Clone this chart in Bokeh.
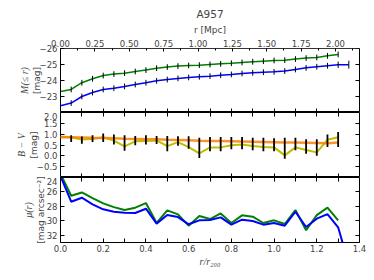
from bokeh.plotting import figure
from bokeh.models import Range1d, LinearAxis, FixedTicker
from bokeh.layouts import column
from bokeh.embed import file_html
from bokeh.resources import INLINE

# ---------------- data ----------------
r_r200 = [0.00, 0.05, 0.10, 0.15, 0.20, 0.25, 0.30, 0.35, 0.40, 0.45, 0.50, 0.55, 0.60, 0.65,
          0.70, 0.75, 0.80, 0.85, 0.90, 0.95, 1.00, 1.05, 1.10, 1.15, 1.20, 1.25, 1.30, 1.35]
r200_mpc = 1.553
x_max = 1.4

# cumulative magnitude M(<=r)
m_green = [-23.31, -23.44, -23.86, -24.11, -24.31, -24.40, -24.46, -24.56, -24.65, -24.77,
           -24.84, -24.90, -24.94, -24.96, -25.00, -25.04, -25.08, -25.13, -25.17, -25.21,
           -25.25, -25.27, -25.34, -25.40, -25.44, -25.54, -25.63]
m_green_err = [0.18, 0.18, 0.18, 0.18, 0.18, 0.18, 0.18, 0.18, 0.18, 0.18, 0.18, 0.18, 0.18, 0.18,
               0.18, 0.18, 0.18, 0.18, 0.18, 0.18, 0.18, 0.18, 0.18, 0.18, 0.18, 0.18, 0.18]
m_blue = [-22.42, -22.59, -23.00, -23.25, -23.44, -23.52, -23.63, -23.75, -23.86, -23.98,
          -24.06, -24.13, -24.19, -24.23, -24.27, -24.33, -24.38, -24.44, -24.48, -24.52,
          -24.54, -24.59, -24.69, -24.79, -24.86, -24.92, -24.98, -24.99]
m_blue_err = [0.18, 0.18, 0.18, 0.18, 0.18, 0.18, 0.18, 0.18, 0.18, 0.18, 0.18, 0.18, 0.18, 0.18,
              0.18, 0.18, 0.18, 0.18, 0.18, 0.18, 0.18, 0.18, 0.18, 0.18, 0.18, 0.18, 0.20, 0.25]

# colour B - V
bv_yellow = [0.86, 0.86, 0.75, 0.78, 0.86, 0.70, 0.44, 0.67, 0.69, 0.71, 0.45, 0.63, 0.40, 0.11,
             0.39, 0.39, 0.49, 0.52, 0.45, 0.41, 0.39, 0.02, 0.39, 0.27, 0.16, 0.74, 0.86]
bv_orange = [0.87, 0.86, 0.85, 0.83, 0.82, 0.81, 0.79, 0.78, 0.77, 0.76, 0.74, 0.73, 0.72, 0.70,
             0.69, 0.68, 0.67, 0.66, 0.65, 0.64, 0.63, 0.62, 0.61, 0.60, 0.59, 0.58, 0.62]
bv_hi = [0.95, 0.89, 0.95, 1.03, 0.98, 0.95, 0.92, 0.95, 0.92, 0.92, 0.90, 0.90, 0.83,
         0.87, 0.87, 0.87, 0.87, 0.84, 0.84, 0.81, 0.83, 0.83, 0.76, 0.76, 0.98, 1.10]
bv_lo = [0.64, 0.56, 0.64, 0.64, 0.52, 0.23, 0.49, 0.52, 0.55, 0.21, 0.46, 0.33, -0.10,
         0.21, 0.21, 0.30, 0.30, 0.26, 0.21, 0.21, -0.13, 0.26, 0.10, 0.00, 0.41, 0.41]

# surface brightness mu(r)
mu_green = [23.5, 26.53, 26.07, 26.85, 27.59, 28.10, 28.50, 28.18, 27.54, 30.30, 28.55, 29.10,
            30.67, 29.34, 29.75, 28.97, 30.30, 29.24, 29.42, 30.30, 29.93, 30.44, 28.51, 31.31,
            29.20, 28.18, 29.95]
mu_blue = [23.8, 27.35, 26.80, 27.72, 28.41, 28.74, 28.87, 28.92, 28.32, 30.39, 29.20, 29.48,
           30.48, 29.93, 29.89, 29.52, 30.53, 29.84, 30.02, 30.53, 30.30, 30.67, 28.74, 30.85,
           29.70, 29.06, 30.90, 36.0]

# ticks / labels
x_ticks = [0.0, 0.2, 0.4, 0.6, 0.8, 1.0, 1.2, 1.4]
x_minor = [0.1, 0.3, 0.5, 0.7, 0.9, 1.1, 1.3]
x_tick_labels = ["0.0", "0.2", "0.4", "0.6", "0.8", "1.0", "1.2", "1.4"]
mpc_ticks = [0.0, 0.25, 0.5, 0.75, 1.0, 1.25, 1.5, 1.75, 2.0]
mpc_minor = [0.125, 0.375, 0.625, 0.875, 1.125, 1.375, 1.625, 1.875, 2.125]
mpc_tick_labels = ["0.00", "0.25", "0.50", "0.75", "1.00", "1.25", "1.50", "1.75", "2.00"]
m_ticks = [-26, -25, -24, -23]
m_tick_labels = ["\u221226", "\u221225", "\u221224", "\u221223"]
bv_ticks = [2.0, 1.5, 1.0, 0.5, 0.0, -0.5]
bv_tick_labels = ["2.0", "1.5", "1.0", "0.5", "0.0", "\u22120.5"]
mu_ticks = [24, 26, 28, 30, 32]
mu_tick_labels = ["24", "26", "28", "30", "32"]

# ---------------- styling helpers ----------------
TICK_FONT = "DejaVu Sans"
TICK_SIZE = "8.5px"
LABEL_COLOR = "#444444"
xr = Range1d(0, x_max)


def make_fig(frame_h, yr, top, bottom):
    p = figure(frame_width=299, frame_height=frame_h, x_range=xr, y_range=yr,
               x_axis_location=None, y_axis_location=None, toolbar_location=None,
               output_backend="svg", min_border_left=60, min_border_right=14,
               min_border_top=top, min_border_bottom=bottom)
    p.grid.visible = False
    p.outline_line_color = "black"
    p.outline_line_width = 1
    p.outline_line_alpha = 1
    p.background_fill_color = "white"
    p.border_fill_color = "white"
    return p


def main_y_axis(p, ticks, labels, unit_label, name_label, unit_standoff=-5):
    ax = LinearAxis(ticker=FixedTicker(ticks=ticks),
                    major_label_overrides=dict(zip(ticks, labels)),
                    axis_label=unit_label, axis_line_color=None,
                    major_tick_in=4, major_tick_out=0, major_tick_line_color="black",
                    major_label_text_font=TICK_FONT, major_label_text_font_size=TICK_SIZE,
                    major_label_standoff=3,
                    axis_label_text_font=TICK_FONT, axis_label_text_font_size="9px",
                    axis_label_text_font_style="normal", axis_label_text_color=LABEL_COLOR,
                    axis_label_standoff=unit_standoff)
    p.add_layout(ax, "left")
    nm = LinearAxis(ticker=FixedTicker(ticks=[]), axis_line_color=None,
                    major_tick_in=0, major_tick_out=0, major_label_text_color=None,
                    major_label_standoff=0, axis_label=name_label,
                    axis_label_text_font="Liberation Serif", axis_label_text_font_size="10px",
                    axis_label_text_font_style="italic", axis_label_text_color=LABEL_COLOR,
                    axis_label_standoff=-1)
    p.add_layout(nm, "left")
    rt = LinearAxis(ticker=FixedTicker(ticks=ticks), fixed_location=x_max,
                    axis_line_color=None, major_tick_in=4, major_tick_out=0,
                    major_label_text_color=None)
    p.add_layout(rt, "right")


def inner_x_axis(p, side, loc):
    ax = LinearAxis(ticker=FixedTicker(ticks=x_ticks, minor_ticks=x_minor), fixed_location=loc,
                    axis_line_color=None, major_tick_in=4, major_tick_out=0,
                    minor_tick_in=4, minor_tick_out=0, major_label_text_color=None)
    p.add_layout(ax, side)


# ---------------- panel 1 ----------------
p1 = make_fig(64, Range1d(-22, -26), 48, 0)
p1.extra_x_ranges = {"mpc": Range1d(0, x_max * r200_mpc)}
p1.title.text = "A957"
p1.title.align = "center"
p1.title.text_font = TICK_FONT
p1.title.text_font_size = "10.5px"
p1.title.text_font_style = "normal"
p1.title.standoff = 3
spacer = LinearAxis(x_range_name="mpc", ticker=FixedTicker(ticks=[]), axis_line_color=None,
                    major_tick_in=0, major_tick_out=7, major_label_text_color=None,
                    major_label_standoff=0)
p1.add_layout(spacer, "above")
top = LinearAxis(x_range_name="mpc", ticker=FixedTicker(ticks=mpc_ticks, minor_ticks=mpc_minor),
                 major_label_overrides=dict(zip(mpc_ticks, mpc_tick_labels)),
                 axis_line_color="#333333", axis_line_width=1,
                 major_tick_in=3, major_tick_out=0, minor_tick_in=2, minor_tick_out=0,
                 major_label_text_font=TICK_FONT, major_label_text_font_size=TICK_SIZE,
                 major_label_standoff=2, axis_label="r [Mpc]",
                 axis_label_text_font=TICK_FONT, axis_label_text_font_size="9px",
                 axis_label_text_font_style="normal", axis_label_text_color=LABEL_COLOR,
                 axis_label_standoff=2)
p1.add_layout(top, "above")
main_y_axis(p1, m_ticks, m_tick_labels, "[mag]", "M(\u2264 r)")
inner_x_axis(p1, "below", -22)

xg = r_r200[:len(m_green)]
xb = r_r200[:len(m_blue)]
p1.line(xg, m_green, line_color="#008000", line_width=1.5)
p1.line(xb, m_blue, line_color="#0000ff", line_width=1.5)
p1.segment(x0=xg, y0=[v - e for v, e in zip(m_green, m_green_err)],
           x1=xg, y1=[v + e for v, e in zip(m_green, m_green_err)],
           line_color="black", line_width=1)
p1.segment(x0=xb, y0=[v - e for v, e in zip(m_blue, m_blue_err)],
           x1=xb, y1=[v + e for v, e in zip(m_blue, m_blue_err)],
           line_color="black", line_width=1)

# ---------------- panel 2 ----------------
p2 = make_fig(65, Range1d(-1.0, 2.0), 0, 0)
main_y_axis(p2, bv_ticks, bv_tick_labels, "[mag]", "B \u2212 V")
inner_x_axis(p2, "above", 2.0)
inner_x_axis(p2, "below", -1.0)
xbv = r_r200[:len(bv_yellow)]
xe = r_r200[1:len(bv_hi) + 1]
p2.line(xbv, bv_yellow, line_color="#bfbf00", line_width=2)
p2.line(xbv, bv_orange, line_color="#ff7f00", line_width=2.5, line_alpha=0.85)
p2.segment(x0=xe, y0=bv_lo, x1=xe, y1=bv_hi, line_color="black", line_width=1.8)

# ---------------- panel 3 ----------------
p3 = make_fig(65, Range1d(33, 24), 0, 36)
main_y_axis(p3, mu_ticks, mu_tick_labels, "[mag arcsec\u207b\u00b2]", "\u03bc(r)", unit_standoff=-2)
inner_x_axis(p3, "above", 24)
bot = LinearAxis(ticker=FixedTicker(ticks=x_ticks, minor_ticks=x_minor),
                 major_label_overrides=dict(zip(x_ticks, x_tick_labels)),
                 axis_line_color=None, major_tick_in=4, major_tick_out=0,
                 minor_tick_in=4, minor_tick_out=0,
                 major_label_text_font=TICK_FONT, major_label_text_font_size=TICK_SIZE,
                 major_label_standoff=2, axis_label="r/r\u2082\u2080\u2080",
                 axis_label_text_font="Liberation Serif", axis_label_text_font_size="10px",
                 axis_label_text_font_style="italic", axis_label_text_color=LABEL_COLOR,
                 axis_label_standoff=1)
p3.add_layout(bot, "below")
p3.line(r_r200[:len(mu_green)], mu_green, line_color="#008000", line_width=2)
p3.line(r_r200[:len(mu_blue)], mu_blue, line_color="#0000ff", line_width=2)

layout = column(p1, p2, p3)
open("out.html", "w").write(file_html(layout, INLINE))
